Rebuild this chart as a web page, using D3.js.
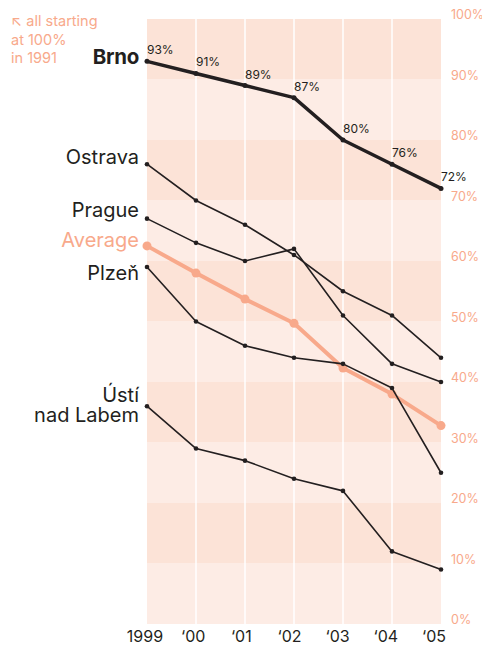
<!DOCTYPE html>
<html>
<head>
<meta charset="utf-8">
<script src="https://cdn.jsdelivr.net/npm/d3@7"></script>
<style>
  html, body { margin: 0; padding: 0; background: #fff; }
  svg { display: block; }
  text { font-family: Inter, "Open Sans", sans-serif; }
</style>
</head>
<body>
<svg id="chart" width="482" height="645"></svg>
<script>
const years = [1999, 2000, 2001, 2002, 2003, 2004, 2005];
const yearLabels = ["1999", "\u201800", "\u201801", "\u201802", "\u201803", "\u201804", "\u201805"];
const yTicks = [0, 10, 20, 30, 40, 50, 60, 70, 80, 90, 100];

const brno    = [93, 91, 89, 87, 80, 76, 72];
const ostrava = [76, 70, 66, 61, 55, 51, 44];
const prague  = [67, 63, 60, 62, 51, 43, 40];
const average = [62.5, 58, 53.7, 49.7, 42.3, 38, 32.8];
const plzen   = [59, 50, 46, 44, 43, 39, 25];
const usti    = [36, 29, 27, 24, 22, 12, 9];

const DARK = "#231f20";
const ORANGE = "#f8a98b";
const BAND_DARK = "#fce3d7";
const BAND_LIGHT = "#fdece5";

const svg = d3.select("#chart");
const x = d3.scalePoint().domain(years).range([147, 441]);
const xLab = d3.scalePoint().domain(years).range([145, 434]);
const y = d3.scaleLinear().domain([0, 100]).range([624, 19]);

// bands
const bandStarts = d3.range(0, 100, 10);
svg.append("g").selectAll("rect").data(bandStarts).join("rect")
  .attr("x", x(1999)).attr("width", x(2005) - x(1999))
  .attr("y", d => y(d + 10)).attr("height", d => y(d) - y(d + 10))
  .attr("fill", d => (d / 10) % 2 === 1 ? BAND_DARK : BAND_LIGHT);

// vertical white lines
svg.append("g").selectAll("line").data(years.slice(1, -1)).join("line")
  .attr("x1", d => x(d)).attr("x2", d => x(d))
  .attr("y1", y(100)).attr("y2", y(0))
  .attr("stroke", "#fff").attr("stroke-width", 1.5);

// right axis labels
svg.append("g").selectAll("text").data(yTicks).join("text")
  .attr("x", 451).attr("y", d => y(d))
  .attr("fill", ORANGE).attr("font-size", 12.5)
  .text(d => d + "%");

// x axis labels
svg.append("g").selectAll("text").data(years).join("text")
  .attr("x", d => xLab(d)).attr("y", 642)
  .attr("text-anchor", "middle").attr("fill", DARK).attr("font-size", 16)
  .text((d, i) => yearLabels[i]);

const line = d3.line().x((d, i) => x(years[i])).y(d => y(d));

function drawSeries(vals, color, width, r) {
  const g = svg.append("g");
  g.append("path").datum(vals).attr("d", line)
    .attr("fill", "none").attr("stroke", color).attr("stroke-width", width)
    .attr("stroke-linejoin", "round").attr("stroke-linecap", "round");
  g.selectAll("circle").data(vals).join("circle")
    .attr("cx", (d, i) => x(years[i])).attr("cy", d => y(d)).attr("r", r)
    .attr("fill", color);
}

drawSeries(average, ORANGE, 4, 4.5);
drawSeries(usti, DARK, 1.6, 2.3);
drawSeries(plzen, DARK, 1.6, 2.3);
drawSeries(prague, DARK, 1.6, 2.3);
drawSeries(ostrava, DARK, 1.6, 2.3);
drawSeries(brno, DARK, 3.5, 2.5);

// Brno value labels
svg.append("g").selectAll("text").data(brno).join("text")
  .attr("x", (d, i) => x(years[i])).attr("y", d => y(d) - 7)
  .attr("fill", DARK).attr("font-size", 12)
  .text(d => d + "%");

// series names
const names = [
  { t: "Brno", v: brno[0], dy: 3, bold: true, size: 20.5, c: DARK },
  { t: "Ostrava", v: ostrava[0], dy: 0, size: 20, c: DARK },
  { t: "Prague", v: prague[0], dy: -1.5, size: 20, c: DARK },
  { t: "Average", v: average[0], dy: 1, size: 20, c: ORANGE },
  { t: "Plze\u0148", v: plzen[0], dy: 13, size: 20, c: DARK },
  { t: "\u00dast\u00ed", v: usti[0], dy: -4, size: 20, c: DARK },
  { t: "nad Labem", v: usti[0], dy: 16, size: 20, c: DARK }
];
svg.append("g").selectAll("text").data(names).join("text")
  .attr("x", 139).attr("y", d => y(d.v) + d.dy)
  .attr("text-anchor", "end").attr("fill", d => d.c)
  .attr("font-size", d => d.size).attr("font-weight", d => d.bold ? 700 : 400)
  .attr("letter-spacing", d => d.bold ? -0.3 : 0)
  .text(d => d.t);

// annotation
const note = ["\u2196 all starting", "at 100%", "in 1991"];
svg.append("g").selectAll("text").data(note).join("text")
  .attr("x", 11).attr("y", (d, i) => 26 + i * 18.5)
  .attr("fill", ORANGE).attr("font-size", 14.5)
  .text(d => d);
</script>
</body>
</html>
